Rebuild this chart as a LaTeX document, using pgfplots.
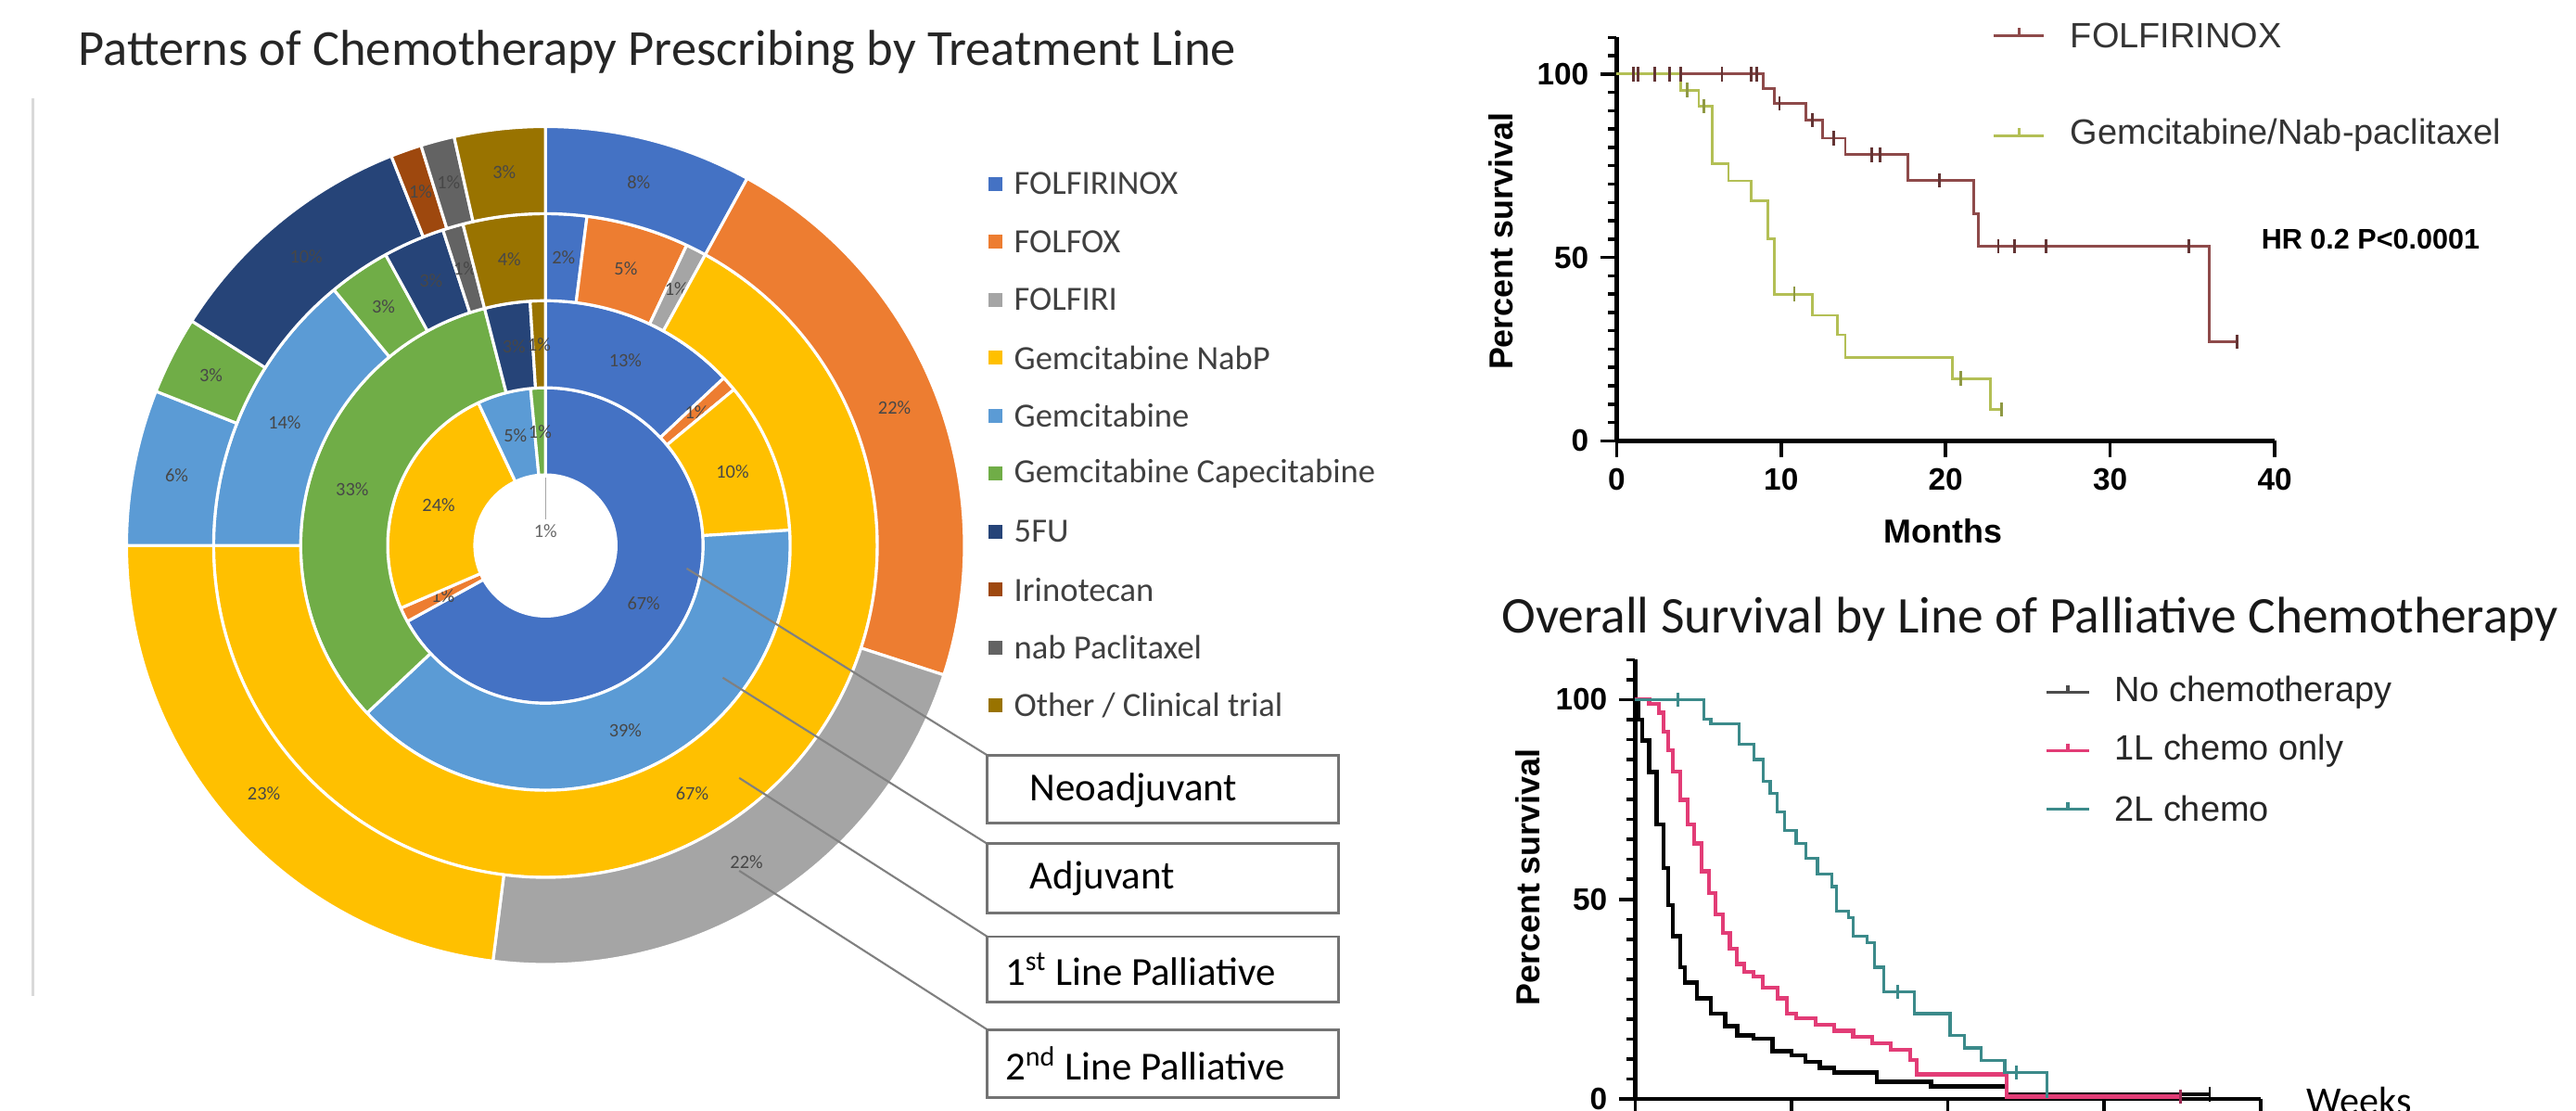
\documentclass[border=0pt]{standalone}
\usepackage{fontspec}
\setmainfont{Carlito}
\newfontfamily\arial{Liberation Sans}
\usepackage{pgfplots}
\usepackage{pgfplotstable}
\pgfplotsset{compat=1.18}

\definecolor{dc0}{HTML}{4472C4}
\definecolor{dc1}{HTML}{ED7D31}
\definecolor{dc2}{HTML}{A5A5A5}
\definecolor{dc3}{HTML}{FFC000}
\definecolor{dc4}{HTML}{5B9BD5}
\definecolor{dc5}{HTML}{70AD47}
\definecolor{dc6}{HTML}{264478}
\definecolor{dc7}{HTML}{9E480E}
\definecolor{dc8}{HTML}{636363}
\definecolor{dc9}{HTML}{997300}
\definecolor{folf}{HTML}{8E4A4A}
\definecolor{gemnab}{HTML}{B3BF55}
\definecolor{onepink}{HTML}{E23C76}
\definecolor{twoteal}{HTML}{3B8A8A}

\newcommand\legfontL{\fontsize{10.4}{12}\selectfont}
\newcommand\boxfont{\fontsize{12.2}{14}\selectfont}
\newcommand\kmleg{\arial\fontsize{10.8}{12}\selectfont}
\newcommand\tickfont{\arial\bfseries\fontsize{9.5}{11}\selectfont}
\newcommand\labfont{\arial\bfseries\fontsize{10.2}{12}\selectfont}
\newcommand\dlabfont{\fontsize{5.8}{6}\selectfont}

% share (%) of each regimen in each ring
\pgfplotstableread{
drug neo adj first second
FOLFIRINOX 67 13 2 8
FOLFOX 1.5 1 5 22
FOLFIRI 0 0 1 22
GemNabP 24.5 10 67 23
Gemcitabine 5.5 39 14 6
GemCap 1.5 33 3 3
FiveFU 0 3 3 10
Irinotecan 0 0 0 1.2
nabPac 0 0 1 1.3
Other 0 1 4 3.5
}\donut

\newcommand\ring[3]{%
  \gdef\cum{0}%
  \pgfmathsetmacro\rin{#2*0.017717}%
  \pgfmathsetmacro\rout{#3*0.017717}%
  \pgfmathsetmacro\rmid{(#2+#3)/2*0.017717}%
  \pgfmathsetmacro\rw{(#3-#2)*0.017717}%
  \foreach \i in {0,...,9}{%
    \pgfplotstablegetelem{\i}{#1}\of\donut
    \let\v\pgfplotsretval
    \pgfmathsetmacro\aone{90-3.6*\cum}%
    \pgfmathsetmacro\atwo{90-3.6*(\cum+\v)}%
    \pgfmathsetmacro\amid{90-3.6*(\cum+\v/2)}%
    \pgfmathsetmacro\aback{\atwo+180}%
    \pgfmathsetmacro\newcum{\cum+\v}%
    \xdef\cum{\newcum}%
    \ifdim\v pt>0pt
      \pgfmathtruncatemacro\lab{\v+0.4}%
      \edef\temp{\noexpand\fill[dc\i, draw=white, line width=0.9pt, line join=round]
        (axis cs:0,0) ++(\aone:\rout cm) arc[start angle=\aone, end angle=\atwo, radius=\rout cm]
        -- ++(\aback:\rw cm) arc[start angle=\atwo, end angle=\aone, radius=\rin cm] -- cycle;
        \noexpand\path (axis cs:0,0) ++(\amid:\rmid cm) node[font=\noexpand\dlabfont, text=black!72, inner sep=0pt] {\lab\noexpand\%};}%
      \temp
    \fi
  }%
}

\begin{document}
\begin{tikzpicture}
\useasboundingbox (0,0) rectangle (27.7803,-11.9767);
\clip (0,0) rectangle (27.7803,-11.9767);

% ---------------- donut (pgfplots axis) ----------------
\begin{axis}[at={(5.882cm,-5.882cm)}, anchor=center, width=9.036cm, height=9.036cm, scale only axis,
  hide axis, xmin=-1, xmax=1, ymin=-1, ymax=1, clip=false]
  \ring{neo}{43}{96}
  \ring{adj}{96}{149}
  \ring{first}{149}{202}
  \ring{second}{202}{255}
  \draw[black!35, line width=0.3pt] (axis cs:0,0) ++(0cm,0.28cm) -- ++(0cm,0.45cm);
  \path (axis cs:0,0) ++(0cm,0.16cm) node[font=\dlabfont, text=black!60, inner sep=0] {1\%};
\end{axis}

% ---------------- top right KM ----------------
\begin{axis}[at={(17.4335cm,-4.7535cm)}, anchor=south west, width=7.098cm, height=4.351cm, scale only axis,
  xmin=0, xmax=40, ymin=0, ymax=110,
  axis lines=left, axis line style={-, line width=1.3pt, black},
  xtick={0,10,20,30,40}, ytick={0,50,100}, minor ytick={5,10,...,110},
  tick align=outside, major tick length=0.177cm, minor tick length=0.09cm,
  tick style={line width=1pt, black},
  tick label style={font=\tickfont},
  /pgf/number format/assume math mode=true,
  clip=false]
  \addplot[const plot, folf, line width=0.8pt] coordinates {
    (0,100) (8.9,96) (9.6,92) (11.5,87.5) (12.5,82.5) (13.9,78) (17.7,71)
    (21.7,62) (22.0,53) (36.0,27) (37.7,27)};
  \addplot[only marks, mark=|, mark size=2.2pt, folf!70!black, mark options={line width=0.8pt}] coordinates {
    (1,100) (1.3,100) (2.3,100) (3.2,100) (3.9,100) (6.4,100) (8.2,100) (8.5,100)
    (9.9,92) (11.9,87.5) (13.2,82.5) (15.5,78) (16,78) (19.6,71)
    (23.2,53) (24.2,53) (26.1,53) (34.8,53) (37.7,27)};
  \addplot[const plot, gemnab, line width=0.8pt] coordinates {
    (0,100) (3.9,95.6) (5.0,91.3) (5.8,75.6) (6.8,70.9) (8.2,65.4) (9.2,55) (9.6,40)
    (11.9,34.2) (13.4,28.9) (13.9,22.8) (20.4,17) (22.7,8.5) (23.4,8.5)};
  \addplot[only marks, mark=|, mark size=2.2pt, gemnab!80!black, mark options={line width=0.8pt}] coordinates {
    (4.3,95.6) (5.3,91.3) (10.8,40) (20.9,17) (23.4,8.5)};
\end{axis}

% ---------------- bottom right KM ----------------
\begin{axis}[at={(17.6337cm,-11.8509cm)}, anchor=south west, width=6.745cm, height=4.738cm, scale only axis,
  xmin=0, xmax=200, ymin=0, ymax=110,
  axis lines=left, axis line style={-, line width=1.3pt, black},
  xtick={0,50,...,200}, xticklabels={}, ytick={0,50,100}, minor ytick={5,10,...,110},
  tick align=outside, major tick length=0.177cm, minor tick length=0.09cm,
  tick style={line width=1pt, black},
  tick label style={font=\tickfont},
  /pgf/number format/assume math mode=true,
  clip=false]
  \addplot[const plot, black, line width=1.3pt] coordinates {
    (0,100) (1,95) (2.3,89.7) (4.5,81.9) (6.8,68.7) (9.1,57.8) (10.6,48.5) (12.1,40.8)
    (14.4,33) (15.9,29.1) (19.7,25.2) (24.2,21.4) (28.8,18.2) (32.6,15.9) (37.9,15.1)
    (43.9,12.0) (50,10.9) (54.5,9.3) (59.1,7.8) (63.6,6.6) (77.3,4.3) (94.7,3.1)
    (118.8,1.2) (183.7,1.2)};
  \addplot[const plot, onepink, line width=1.2pt] coordinates {
    (0,100) (4.5,99) (7.6,96.7) (9.1,92) (10.6,87.3) (12.1,81.9) (14.4,74.9) (16.7,68.7)
    (18.9,64) (21.2,57) (23.5,51.6) (25.8,46.2) (28,41.5) (30.3,37.7) (32.6,33.8)
    (34.8,31.8) (37.9,30.7) (40.9,27.9) (45.5,25.2) (48.5,21.4) (51.5,20.2) (57.6,18.6)
    (63.6,17.1) (69.7,15.5) (75.8,14) (81.8,12.4) (87.9,9.7) (90,6.2) (118.8,0.6) (174.4,0.6)};
  \addplot[const plot, twoteal, line width=0.9pt] coordinates {
    (0,100) (22,95.1) (24.2,93.9) (33.3,88.9) (37.9,85) (40.9,79.6) (43.2,76.5) (45.5,71.8)
    (47.7,67.2) (51.5,64) (54.5,60.2) (58.3,56.3) (62.9,53.2) (64.4,47) (68.2,45.4)
    (69.7,40.8) (74.2,39.2) (76.5,33) (79.5,26.8) (89.4,21.4) (100.7,15.9) (105.3,12.8)
    (110.6,9.7) (118.2,6.6) (131.8,0.3)};
  \addplot[only marks, mark=|, mark size=2.2pt, black, mark options={line width=0.8pt}] coordinates {(183.7,1.2)};
  \addplot[only marks, mark=|, mark size=2.2pt, onepink!70!black, mark options={line width=0.8pt}] coordinates {(174.4,0.6)};
  \addplot[only marks, mark=|, mark size=2.2pt, twoteal, mark options={line width=0.8pt}] coordinates {(13.6,100) (84,26.8) (122,6.6)};
\end{axis}

\begin{scope}[x=0.017717cm, y=-0.017717cm]
% ---------------- left panel ----------------
\node[anchor=base west, inner sep=0, font=\fontsize{15.5}{18}\selectfont, text=black!85] at (47.5,40) {Patterns of Chemotherapy Prescribing by Treatment Line};
\draw[black!15, line width=0.8pt] (20,60) -- (20,606);

% leader lines
\draw[black!50, line width=0.6pt] (418,346) -- (601,459.7);
\draw[black!50, line width=0.6pt] (440,412.5) -- (601,513.6);
\draw[black!50, line width=0.6pt] (450,473.5) -- (601,570.1);
\draw[black!50, line width=0.6pt] (450,530) -- (601,626.7);

% boxes
\draw[black!55, line width=0.8pt] (601,459.7) rectangle (815,501.2);
\draw[black!55, line width=0.8pt] (601,513.6) rectangle (815,555.8);
\draw[black!55, line width=0.8pt] (601,570.1) rectangle (815,609.7);
\draw[black!55, line width=0.8pt] (601,626.7) rectangle (815,668.1);
\node[anchor=west, inner sep=0, font=\boxfont] at (626.7,481) {Neoadjuvant};
\node[anchor=west, inner sep=0, font=\boxfont] at (626.7,535) {Adjuvant};
\node[anchor=west, inner sep=0, font=\boxfont] at (611.6,590) {1\textsuperscript{st} Line Palliative};
\node[anchor=west, inner sep=0, font=\boxfont] at (611.6,647.5) {2\textsuperscript{nd} Line Palliative};

% legend of the donut
\foreach \name [count=\k from 0] in {FOLFIRINOX, FOLFOX, FOLFIRI, Gemcitabine NabP, Gemcitabine, Gemcitabine Capecitabine, 5FU, Irinotecan, nab Paclitaxel, Other / Clinical trial}{
  \pgfmathsetmacro\yy{111.8+35.3*\k}
  \fill[dc\k] (601.5,\yy-4.2) rectangle (610,\yy+4.2);
  \node[anchor=west, inner sep=0, font=\legfontL, text=black!75] at (617,\yy) {\name};
}

% top KM labels and legend
\node[rotate=90, font=\labfont] at (914,147) {Percent survival};
\node[font=\labfont] at (1183,323) {Months};
\draw[folf, line width=0.8pt] (1213.5,21.5) -- (1244,21.5);
\draw[folf, line width=0.8pt] (1229,17) -- (1229,21.5);
\node[anchor=west, inner sep=0, font=\kmleg, text=black!80] at (1260,21.5) {FOLFIRINOX};
\draw[gemnab, line width=0.8pt] (1213.5,82.5) -- (1244,82.5);
\draw[gemnab, line width=0.8pt] (1229,78) -- (1229,82.5);
\node[anchor=west, inner sep=0, font=\kmleg, text=black!80] at (1260,82.5) {Gemcitabine/Nab-paclitaxel};
\node[anchor=west, inner sep=0, font=\arial\bfseries\fontsize{8.7}{10}\selectfont] at (1376.3,145.8) {HR 0.2 P<0.0001};

% bottom KM labels and legend
\node[anchor=base west, inner sep=0, font=\fontsize{15.8}{18}\selectfont, text=black!90] at (913.7,385) {Overall Survival by Line of Palliative Chemotherapy};
\node[rotate=90, font=\labfont] at (930,534) {Percent survival};
\node[anchor=base west, inner sep=0, font=\fontsize{12}{14}\selectfont] at (1404,678.5) {Weeks};
\draw[black!70, line width=0.9pt] (1245.7,421.5) -- (1271.9,421.5);
\draw[black!70, line width=0.9pt] (1258.8,417) -- (1258.8,421.5);
\node[anchor=west, inner sep=0, font=\kmleg, text=black!85] at (1286.8,421.5) {No chemotherapy};
\draw[onepink, line width=0.9pt] (1245.7,457) -- (1271.9,457);
\draw[onepink, line width=0.9pt] (1258.8,452.5) -- (1258.8,457);
\node[anchor=west, inner sep=0, font=\kmleg, text=black!85] at (1286.8,457) {1L chemo only};
\draw[twoteal, line width=0.9pt] (1245.7,492.4) -- (1271.9,492.4);
\draw[twoteal, line width=0.9pt] (1258.8,488) -- (1258.8,492.4);
\node[anchor=west, inner sep=0, font=\kmleg, text=black!85] at (1286.8,492.4) {2L chemo};
\end{scope}
\end{tikzpicture}
\end{document}
